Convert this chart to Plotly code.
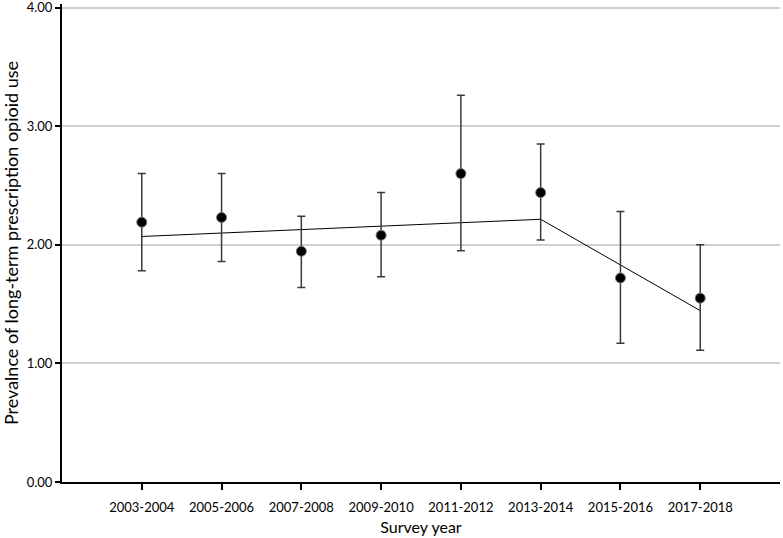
import plotly.graph_objects as go

# survey cycles and prevalence estimates (%)
periods = ["2003-2004", "2005-2006", "2007-2008", "2009-2010",
           "2011-2012", "2013-2014", "2015-2016", "2017-2018"]
prevalence = [2.19, 2.23, 1.945, 2.08, 2.60, 2.44, 1.72, 1.55]
upper_ci = [2.60, 2.60, 2.24, 2.44, 3.26, 2.85, 2.28, 2.00]
lower_ci = [1.78, 1.86, 1.64, 1.73, 1.95, 2.04, 1.17, 1.11]
# joinpoint trend line
trend = [2.07, 2.10, 2.13, 2.155, 2.185, 2.215, 1.83, 1.445]

err_plus = [u - p for u, p in zip(upper_ci, prevalence)]
err_minus = [p - l for p, l in zip(prevalence, lower_ci)]

fig = go.Figure()
fig.add_trace(go.Scatter(
    x=periods,
    y=trend,
    mode="lines",
    line=dict(color="black", width=1),
    showlegend=False,
    hoverinfo="skip",
))
fig.add_trace(go.Scatter(
    x=periods,
    y=prevalence,
    mode="markers",
    marker=dict(color="black", size=10, line=dict(color="#777777", width=1)),
    error_y=dict(
        type="data",
        symmetric=False,
        array=err_plus,
        arrayminus=err_minus,
        color="#3a3a3a",
        thickness=1.5,
        width=4,
    ),
    showlegend=False,
))

fig.update_layout(
    width=783,
    height=538,
    margin=dict(l=62, r=3, t=4, b=56),
    paper_bgcolor="white",
    plot_bgcolor="white",
    font=dict(family="Lato, Open Sans, sans-serif", color="black"),
    xaxis=dict(
        type="category",
        range=[-1, 8],
        automargin=False,
        showline=True,
        linecolor="black",
        linewidth=2,
        ticks="outside",
        ticklen=6,
        tickcolor="black",
        tickwidth=1.5,
        ticklabelstandoff=6,
        showgrid=False,
        tickfont=dict(size=13),
        title=dict(text="Survey year", font=dict(size=16), standoff=8),
    ),
    yaxis=dict(
        range=[0, 4.03],
        tickvals=[0, 1, 2, 3, 4],
        tickformat=".2f",
        automargin=False,
        ticklabeloverflow="allow",
        showline=True,
        linecolor="black",
        linewidth=2,
        ticks="outside",
        ticklen=5,
        tickcolor="black",
        tickwidth=1.5,
        showgrid=True,
        gridcolor="#d0d0d0",
        gridwidth=1.5,
        zeroline=False,
        tickfont=dict(size=13),
        title=dict(text="Prevalnce of long-term prescription opioid use",
                   font=dict(size=18), standoff=4),
    ),
)

fig.write_html(
    "out.html",
    config={"displayModeBar": False},
    post_script="document.body.style.margin = '0px';",
)
